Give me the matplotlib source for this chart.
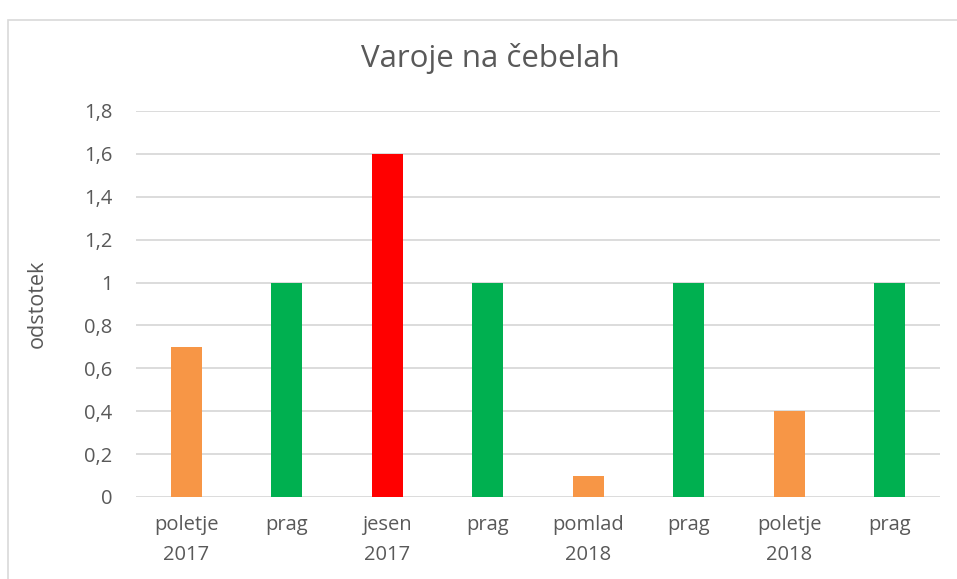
import matplotlib.pyplot as plt
import matplotlib.patches as mpatches

# Podatki
kategorije = ["poletje\n2017", "prag", "jesen\n2017", "prag", "pomlad\n2018", "prag", "poletje\n2018", "prag"]
vrednosti = [0.7, 1.0, 1.6, 1.0, 0.1, 1.0, 0.4, 1.0]
barve = ["#F79646", "#00B050", "#FF0000", "#00B050", "#F79646", "#00B050", "#F79646", "#00B050"]
y_ticks = [0, 0.2, 0.4, 0.6, 0.8, 1.0, 1.2, 1.4, 1.6, 1.8]
y_labels = ["0", "0,2", "0,4", "0,6", "0,8", "1", "1,2", "1,4", "1,6", "1,8"]

plt.rcParams["font.family"] = ["Open Sans", "DejaVu Sans"]
TXT = "#595959"

fig = plt.figure(figsize=(9.57, 5.79), dpi=100)

# Okvir grafikona
fig.patches.append(mpatches.Rectangle((8 / 957, -0.1), 1.0, 1.1 - 20 / 579, transform=fig.transFigure,
                                      fill=False, edgecolor="#D9D9D9", linewidth=1.2))

ax = fig.add_axes([136 / 957, 1 - 497 / 579, 804 / 957, 386 / 579])
x = range(len(vrednosti))
ax.bar(x, vrednosti, width=0.31, color=barve, zorder=3)

ax.set_xlim(-0.5, len(vrednosti) - 0.5)
ax.set_ylim(0, 1.8)
ax.set_yticks(y_ticks)
ax.set_yticklabels(y_labels)
ax.set_xticks(list(x))
ax.set_xticklabels(kategorije, linespacing=1.65)
ax.grid(axis="y", color="#D9D9D9", linewidth=1.3, zorder=0)
for s in ax.spines.values():
    s.set_visible(False)
ax.tick_params(axis="both", length=0, labelsize=14.5, colors=TXT)
ax.tick_params(axis="y", pad=17)
ax.tick_params(axis="x", pad=13)
ax.set_ylabel("odstotek", fontsize=15.5, color=TXT, labelpad=26)

fig.text(0.512, 1 - 59 / 579, "Varoje na čebelah", ha="center", va="center", fontsize=22.5, color=TXT)

fig.savefig("out.png", dpi=100)
